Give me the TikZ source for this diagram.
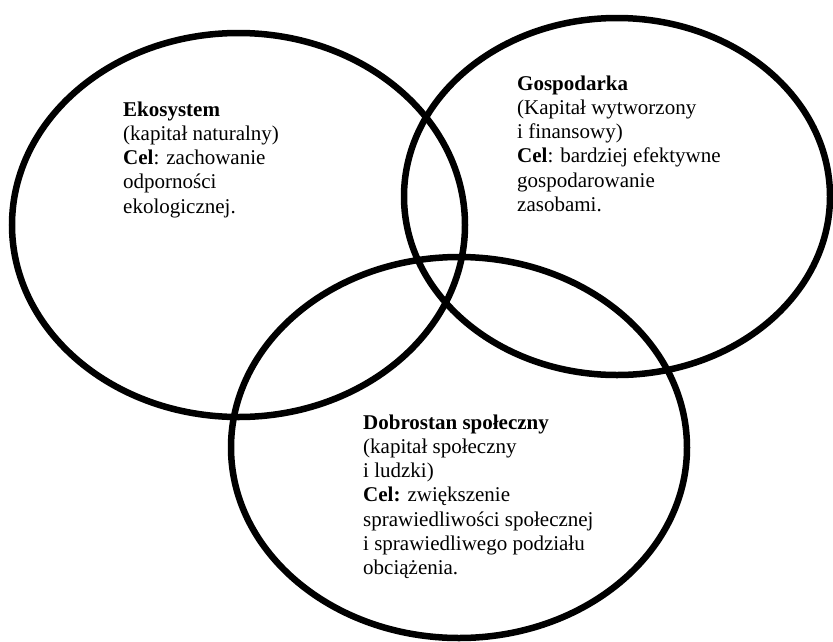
\documentclass[tikz,border=0pt]{standalone}
\usepackage{fontspec}
\setmainfont{Liberation Serif}
\begin{document}
\begin{tikzpicture}[x=1pt,y=-1pt,
  ring/.style={draw=black,line width=6.5pt},
  label/.style={anchor=base west,inner sep=0pt,font=\fontsize{21}{24.3}\selectfont}]
\useasboundingbox (0,0) rectangle (833,641);
\draw[ring] (238.5,225) ellipse [x radius=226.5,y radius=192];
\draw[ring] (617,196.5) ellipse [x radius=213,y radius=178.5];
\draw[ring] (459,447.5) ellipse [x radius=228,y radius=190.5];
\node[label] (eko) at (123,116) {\begin{tabular}[t]{@{}l@{}}\textbf{Ekosystem}\\(kapitał naturalny)\\\textbf{Cel}: zachowanie\\odporności\\ekologicznej.\end{tabular}};
\node[label] (gosp) at (517,90) {\begin{tabular}[t]{@{}l@{}}\textbf{Gospodarka}\\(Kapitał wytworzony\\i finansowy)\\\textbf{Cel}: bardziej efektywne\\gospodarowanie\\zasobami.\end{tabular}};
\node[label] (dobro) at (363,429) {\begin{tabular}[t]{@{}l@{}}\textbf{Dobrostan społeczny}\\(kapitał społeczny\\i ludzki)\\\textbf{Cel:} zwiększenie\\sprawiedliwości społecznej\\i sprawiedliwego podziału\\obciążenia.\end{tabular}};
\end{tikzpicture}
\end{document}
